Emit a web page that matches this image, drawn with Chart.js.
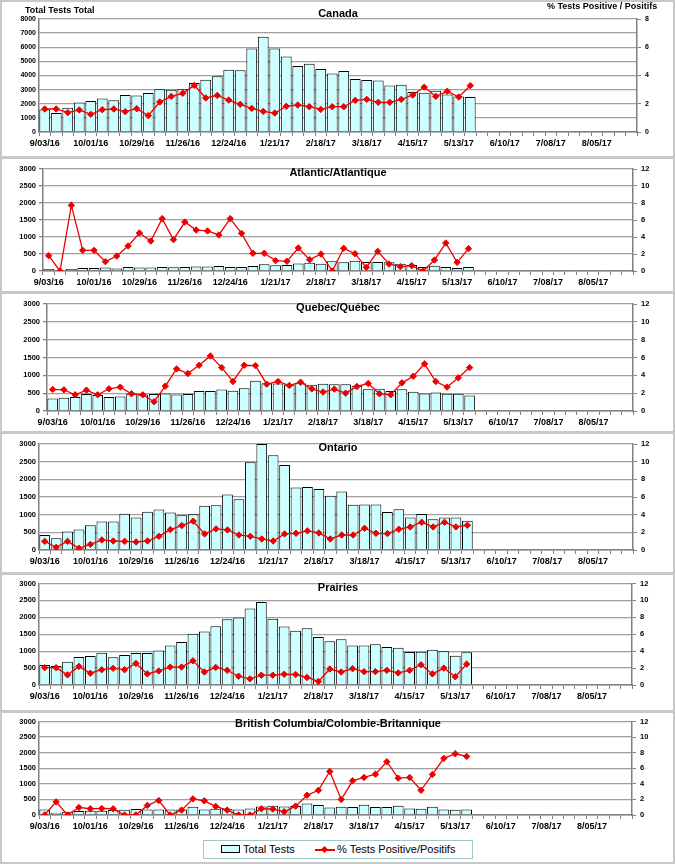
<!DOCTYPE html>
<html>
<head>
<meta charset="utf-8">
<script src="https://cdn.jsdelivr.net/npm/chart.js@4.4.1/dist/chart.umd.min.js"></script>
<style>
  body { margin: 0; background: #fff; }
  #page { position: relative; width: 675px; height: 864px; overflow: hidden; font-family: "Liberation Sans", Arial, sans-serif; }
  .panel { position: absolute; left: 0; width: 675px; }
  .sep { position: absolute; left: 0; width: 675px; height: 3px; background: #c8c8c8; }
  #frame { position: absolute; left: 0; top: 0; width: 671px; height: 860px; border: 2px solid #c8c8c8; pointer-events: none; }
  #legend { position: absolute; left: 203px; top: 840px; width: 268px; height: 17px; border: 1px solid #9cc8c8; background: #fff; font-size: 11px; }
  #legend span { position: absolute; top: 2px; white-space: nowrap; }
  .swBar { position: absolute; left: 17px; top: 4px; width: 17px; height: 6px; background: #ccffff; border: 1px solid #000; }
  .swLine { position: absolute; left: 111px; top: 8px; width: 20px; height: 1.5px; background: #ee0000; }
  .swDot { position: absolute; left: 118px; top: 6px; width: 5px; height: 5px; background: #ee0000; transform: rotate(45deg); }
</style>
</head>
<body>
<div id="page">
  <div id="frame"></div>
  <div id="legend">
    <div class="swBar"></div><span style="left:39px">Total Tests</span>
    <div class="swLine"></div><div class="swDot"></div><span style="left:133px">% Tests Positive/Positifs</span>
  </div>
</div>
<script>
const weeks = ['9/03/16','9/10/16','9/17/16','9/24/16','10/01/16','10/08/16','10/15/16','10/22/16',
  '10/29/16','11/05/16','11/12/16','11/19/16','11/26/16','12/03/16','12/10/16','12/17/16',
  '12/24/16','12/31/16','1/07/17','1/14/17','1/21/17','1/28/17','2/04/17','2/11/17',
  '2/18/17','2/25/17','3/04/17','3/11/17','3/18/17','3/25/17','4/01/17','4/08/17',
  '4/15/17','4/22/17','4/29/17','5/06/17','5/13/17','5/20/17','5/27/17','6/03/17',
  '6/10/17','6/17/17','6/24/17','7/01/17','7/08/17','7/15/17','7/22/17','7/29/17',
  '8/05/17','8/12/17','8/19/17','8/26/17']
const tickLabels = ['9/03/16','10/01/16','10/29/16','11/26/16','12/24/16','1/21/17','2/18/17',
  '3/18/17','4/15/17','5/13/17','6/10/17','7/08/17','8/05/17']

const canadaTests = [1600,1350,1720,2080,2200,2380,2250,2620,2580,2760,3020,3000,3020,3470,3700,3940,
  4400,4370,5920,6750,5920,5350,4670,4830,4460,4150,4310,3750,3680,3650,3300,3350,2830,2780,2920,2660,2520,2480]
const canadaPct = [1.63,1.63,1.37,1.56,1.25,1.58,1.63,1.44,1.65,1.16,2.12,2.52,2.74,3.30,2.41,2.59,
  2.26,1.96,1.67,1.46,1.34,1.82,1.91,1.79,1.60,1.79,1.79,2.24,2.31,2.10,2.10,2.31,2.62,3.18,2.52,2.88,2.48,3.28]

const atlanticTests = [60,20,60,90,90,100,70,120,100,100,120,110,120,130,130,150,
  120,120,150,200,170,180,220,240,210,290,255,304,265,265,255,215,176,118,157,118,88,118]
const atlanticPct = [1.80,0,7.73,2.43,2.43,1.10,1.76,2.94,4.47,3.53,6.16,3.69,5.76,4.82,4.71,4.24,
  6.16,4.43,2.08,2.08,1.22,1.14,2.71,1.33,2.00,0,2.67,2.04,0.43,2.31,0.82,0.51,0.63,0,1.29,3.29,1.02,2.63]

const quebecTests = [353,372,390,474,446,390,409,483,465,474,493,465,474,558,558,604,
  567,641,846,781,771,734,781,734,762,753,753,706,613,623,558,613,539,493,520,483,483,437]
const quebecPct = [2.42,2.38,1.82,2.34,1.82,2.49,2.68,1.93,1.82,1.04,2.79,4.72,4.20,5.13,6.17,4.87,
  3.31,5.13,5.09,3.01,3.31,2.86,3.23,2.49,2.12,2.45,2.00,2.75,3.08,1.93,1.82,3.16,3.90,5.28,3.31,2.68,3.72,4.87]

const ontarioTests = [426,331,521,578,701,805,805,1023,919,1080,1146,1061,985,1013,1250,1269,
  1572,1439,2481,3000,2680,2405,1771,1780,1723,1534,1657,1280,1290,1290,1075,1150,918,1020,870,918,918,825]
const ontarioPct = [0.98,0.30,0.98,0.19,0.64,1.14,1.02,0.98,0.91,1.02,1.55,2.31,2.77,3.26,1.82,2.39,
  2.27,1.70,1.55,1.25,1.02,1.82,1.89,2.16,1.93,1.25,1.70,1.70,2.46,1.89,1.86,2.35,2.61,3.14,2.61,3.14,2.61,2.80]

const prairiesTests = [589,560,685,830,859,956,820,888,946,946,1023,1168,1274,1515,1583,1737,
  1940,1998,2259,2452,1959,1727,1602,1680,1419,1293,1351,1168,1168,1207,1126,1100,975,985,1042,995,868,965]
const prairiesPct = [2.05,2.05,1.20,2.20,1.39,1.81,1.97,1.81,2.55,1.31,1.66,2.12,2.12,2.86,1.54,2.08,
  1.74,1.04,0.73,1.16,1.16,1.27,1.24,0.89,0.42,1.89,1.54,1.93,1.58,1.58,1.74,1.43,1.74,2.39,1.31,2.00,0.97,2.47]

const bcTests = [180,74,106,127,137,137,159,169,190,180,180,180,180,264,180,201,
  201,180,211,275,296,275,285,370,317,243,264,253,327,253,253,296,211,200,264,180,169,180]
const bcPct = [0,1.69,0,0.97,0.80,0.84,0.80,0,0,1.23,1.86,0,0.63,2.07,1.82,1.10,
  0.63,0,0,0.80,0.76,0.42,1.14,2.53,3.17,5.58,1.99,4.39,4.82,5.24,6.84,4.73,4.82,3.17,5.20,7.27,7.86,7.52]

// page layout of each panel (page pixels)
const panels = [
  { title: 'Canada', tests: canadaTests, pct: canadaPct, top: 0, bottom: 156, areaTop: 19, areaBottom: 132,
    left: 39, right: 637, titleY: 14, yMax: 8000, yStep: 1000, y1Max: 8, yTick: 0, tickSize: 7 },
  { title: 'Atlantic/Atlantique', tests: atlanticTests, pct: atlanticPct, top: 158, bottom: 291, areaTop: 169, areaBottom: 271,
    left: 43, right: 633, titleY: 173, yMax: 3000, yStep: 500, y1Max: 12, yTick: 4, tickSize: 7.5 },
  { title: 'Quebec/Québec', tests: quebecTests, pct: quebecPct, top: 294, bottom: 431, areaTop: 304, areaBottom: 411,
    left: 47, right: 633, titleY: 308, yMax: 3000, yStep: 500, y1Max: 12, yTick: 4, tickSize: 7.5 },
  { title: 'Ontario', tests: ontarioTests, pct: ontarioPct, top: 434, bottom: 572, areaTop: 444, areaBottom: 550,
    left: 39, right: 633, titleY: 448, yMax: 3000, yStep: 500, y1Max: 12, yTick: 0, tickSize: 7.5 },
  { title: 'Prairies', tests: prairiesTests, pct: prairiesPct, top: 575, bottom: 710, areaTop: 581, areaBottom: 685,
    left: 39, right: 632, titleY: 588, yMax: 3000, yStep: 500, y1Max: 12, yTick: 0, tickSize: 7.5 },
  { title: 'British Columbia/Colombie-Britannique', tests: bcTests, pct: bcPct, top: 713, bottom: 864, areaTop: 720, areaBottom: 815,
    left: 39, right: 632, titleY: 724, yMax: 3000, yStep: 500, y1Max: 12, yTick: 0, tickSize: 7.5 }
]
const separators = [156, 291, 431, 572, 710]

Chart.defaults.font.family = '"Liberation Sans", Arial, sans-serif'
Chart.defaults.font.weight = 'bold'
Chart.defaults.color = '#000'
Chart.defaults.animation = false

const panelText = {
  id: 'panelText',
  afterDraw(chart, args, opts) {
    const ctx = chart.ctx
    ctx.save()
    ctx.fillStyle = '#000'
    ctx.textBaseline = 'middle'
    for (const t of opts.items || []) {
      ctx.font = `bold ${t.size}px "Liberation Sans", Arial, sans-serif`
      ctx.textAlign = t.align
      ctx.fillText(t.text, t.x, t.y)
    }
    ctx.restore()
  }
}

const page = document.getElementById('page')

for (const s of separators) {
  const d = document.createElement('div')
  d.className = 'sep'
  d.style.top = s + 'px'
  page.appendChild(d)
}

panels.forEach((p, n) => {
  const h = p.bottom - p.top
  const box = document.createElement('div')
  box.className = 'panel'
  box.style.top = p.top + 'px'
  box.style.height = h + 'px'
  const cv = document.createElement('canvas')
  box.appendChild(cv)
  page.insertBefore(box, document.getElementById('frame'))

  const items = [{ text: p.title, x: 338, y: p.titleY - p.top, size: 11, align: 'center' }]
  if (n === 0) {
    items.push({ text: 'Total Tests Total', x: 25, y: 11, size: 9, align: 'left' })
    items.push({ text: '% Tests Positive / Positifs', x: 547, y: 7, size: 9, align: 'left' })
  }

  new Chart(cv, {
    type: 'bar',
    data: {
      labels: weeks,
      datasets: [
        {
          type: 'line', label: '% Tests Positive/Positifs', data: p.pct, yAxisID: 'y1',
          borderColor: '#ee0000', backgroundColor: '#ee0000', borderWidth: 1.3,
          pointStyle: 'rectRot', pointRadius: 3.2, pointBorderWidth: 1, tension: 0, order: 0
        },
        {
          type: 'bar', label: 'Total Tests', data: p.tests, yAxisID: 'y',
          backgroundColor: '#ccffff', borderColor: '#000', borderWidth: 1,
          barPercentage: 0.94, categoryPercentage: 1, order: 1
        }
      ]
    },
    options: {
      responsive: true,
      maintainAspectRatio: false,
      layout: { padding: { top: p.areaTop - p.top, left: 0, right: 0, bottom: 0 } },
      plugins: { legend: { display: false }, tooltip: { enabled: false }, panelText: { items } },
      scales: {
        x: {
          offset: true,
          grid: { offset: true, drawOnChartArea: false, tickLength: 4, color: '#808080' },
          border: { color: '#808080', width: 1.5 },
          ticks: {
            autoSkip: false, maxRotation: 0, minRotation: 0, padding: 2, font: { size: 9 },
            callback: function (v) {
              const l = this.getLabelForValue(v)
              return tickLabels.includes(l) ? l : ''
            }
          },
          afterFit(s) { s.height = p.bottom - p.areaBottom }
        },
        y: {
          position: 'left', min: 0, max: p.yMax,
          ticks: { stepSize: p.yStep, padding: 3, font: { size: p.tickSize }, format: { useGrouping: false } },
          grid: { color: '#a0a0a0', lineWidth: 1.3, drawTicks: p.yTick > 0, tickLength: p.yTick, tickColor: '#808080' },
          border: { color: '#808080', width: 1.5 },
          afterFit(s) { s.width = p.left }
        },
        y1: {
          position: 'right', min: 0, max: p.y1Max,
          ticks: { stepSize: 2, padding: 4, font: { size: p.tickSize } },
          grid: { drawOnChartArea: false, tickLength: 4, color: '#808080' },
          border: { color: '#808080', width: 1.5 },
          afterFit(s) { s.width = 675 - p.right }
        }
      }
    },
    plugins: [panelText]
  })
})
</script>
</body>
</html>
